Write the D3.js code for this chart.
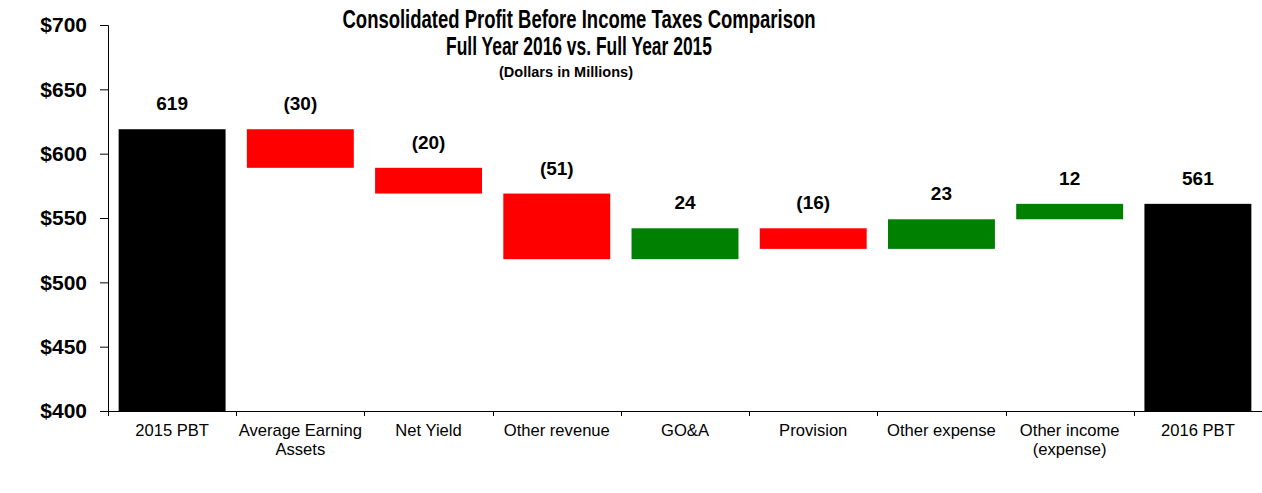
<!DOCTYPE html>
<html>
<head>
<meta charset="utf-8">
<script src="https://cdn.jsdelivr.net/npm/d3@7"></script>
<style>
  html, body { margin: 0; padding: 0; background: #fff; }
  svg { display: block; }
</style>
</head>
<body>
<svg id="chart" width="1262" height="493"></svg>
<script>
const categories = ["2015 PBT", "Average Earning\nAssets", "Net Yield", "Other revenue", "GO&A", "Provision", "Other expense", "Other income\n(expense)", "2016 PBT"];
const changes = [619, -30, -20, -51, 24, -16, 23, 12, 561];
const kinds = ["total", "delta", "delta", "delta", "delta", "delta", "delta", "delta", "total"];
const valueLabels = ["619", "(30)", "(20)", "(51)", "24", "(16)", "23", "12", "561"];
const yTicks = [400, 450, 500, 550, 600, 650, 700];
const titleLines = ["Consolidated Profit Before Income Taxes Comparison", "Full Year 2016 vs. Full Year 2015"];
const subtitle = "(Dollars in Millions)";

const svg = d3.select("#chart");
const mLeft = 108, mRight = 1262, mTop = 25, mBottom = 411;

const y = d3.scaleLinear().domain([400, 700]).range([mBottom, mTop]);
const slots = d3.scaleBand().domain(categories).range([mLeft, mRight]).padding(0);
const bars = d3.scaleBand().domain(categories).range([mLeft, mRight]).paddingInner(0.166).paddingOuter(0.083);

// compute waterfall
let run = 0;
const data = categories.map((c, i) => {
  let lo, hi;
  if (kinds[i] === "total") { lo = 400; hi = changes[i]; run = changes[i]; }
  else { const prev = run; run = prev + changes[i]; lo = Math.min(prev, run); hi = Math.max(prev, run); }
  const color = kinds[i] === "total" ? "#000000" : (changes[i] < 0 ? "#ff0000" : "#008000");
  return { c, lo, hi, color, label: valueLabels[i] };
});

// bars
svg.append("g").selectAll("rect").data(data).join("rect")
  .attr("x", d => bars(d.c))
  .attr("width", bars.bandwidth())
  .attr("y", d => y(d.hi))
  .attr("height", d => y(d.lo) - y(d.hi))
  .attr("fill", d => d.color);

// value labels
svg.append("g").selectAll("text").data(data).join("text")
  .attr("x", d => bars(d.c) + bars.bandwidth() / 2)
  .attr("y", d => y(d.hi) - 19)
  .attr("text-anchor", "middle")
  .attr("font-family", "Liberation Sans, Arial, sans-serif")
  .attr("font-weight", "bold")
  .attr("font-size", 19)
  .attr("fill", "#000")
  .text(d => d.label);

// y axis
const yAxis = svg.append("g").attr("transform", `translate(${mLeft},0)`)
  .call(d3.axisLeft(y).tickValues(yTicks).tickFormat(d => "$" + d).tickSize(8).tickPadding(13));
yAxis.select(".domain").attr("stroke", "#000").attr("d", `M-8,${mTop}.5H0.5V${mBottom}`);
yAxis.selectAll(".tick line").attr("stroke", "#000");
yAxis.selectAll(".tick text")
  .attr("font-family", "Liberation Sans, Arial, sans-serif")
  .attr("font-weight", "bold")
  .attr("font-size", 21)
  .attr("fill", "#000");

// x axis
const xg = svg.append("g");
xg.append("line").attr("x1", mLeft).attr("x2", mRight).attr("y1", mBottom + 0.5).attr("y2", mBottom + 0.5).attr("stroke", "#000");
const boundaries = categories.map(c => slots(c));
xg.selectAll("line.tk").data(boundaries).join("line").attr("class", "tk")
  .attr("x1", d => Math.round(d) + 0.5).attr("x2", d => Math.round(d) + 0.5)
  .attr("y1", mBottom).attr("y2", mBottom + 5).attr("stroke", "#000");
const xl = xg.selectAll("text").data(categories).join("text")
  .attr("x", d => slots(d) + slots.bandwidth() / 2)
  .attr("y", mBottom + 25)
  .attr("text-anchor", "middle")
  .attr("font-family", "Liberation Sans, Arial, sans-serif")
  .attr("font-size", 16.6)
  .attr("fill", "#000");
xl.each(function(d) {
  const t = d3.select(this);
  d.split("\n").forEach((line, i) => {
    t.append("tspan").attr("x", slots(d) + slots.bandwidth() / 2).attr("dy", i === 0 ? 0 : 19).text(line);
  });
});

// title (narrow bold look via textLength)
const tg = svg.append("g").attr("font-family", "Liberation Sans Narrow, Arial Narrow, Liberation Sans, sans-serif").attr("font-weight", "bold").attr("text-anchor", "middle").attr("fill", "#000");
tg.append("text").attr("x", 579).attr("y", 28).attr("font-size", 25)
  .attr("textLength", 473).attr("lengthAdjust", "spacingAndGlyphs").text(titleLines[0]);
tg.append("text").attr("x", 579).attr("y", 55).attr("font-size", 25)
  .attr("textLength", 266).attr("lengthAdjust", "spacingAndGlyphs").text(titleLines[1]);
tg.append("text").attr("x", 566).attr("y", 77).attr("font-size", 15)
  .attr("textLength", 134).attr("lengthAdjust", "spacingAndGlyphs").text(subtitle);
</script>
</body>
</html>
